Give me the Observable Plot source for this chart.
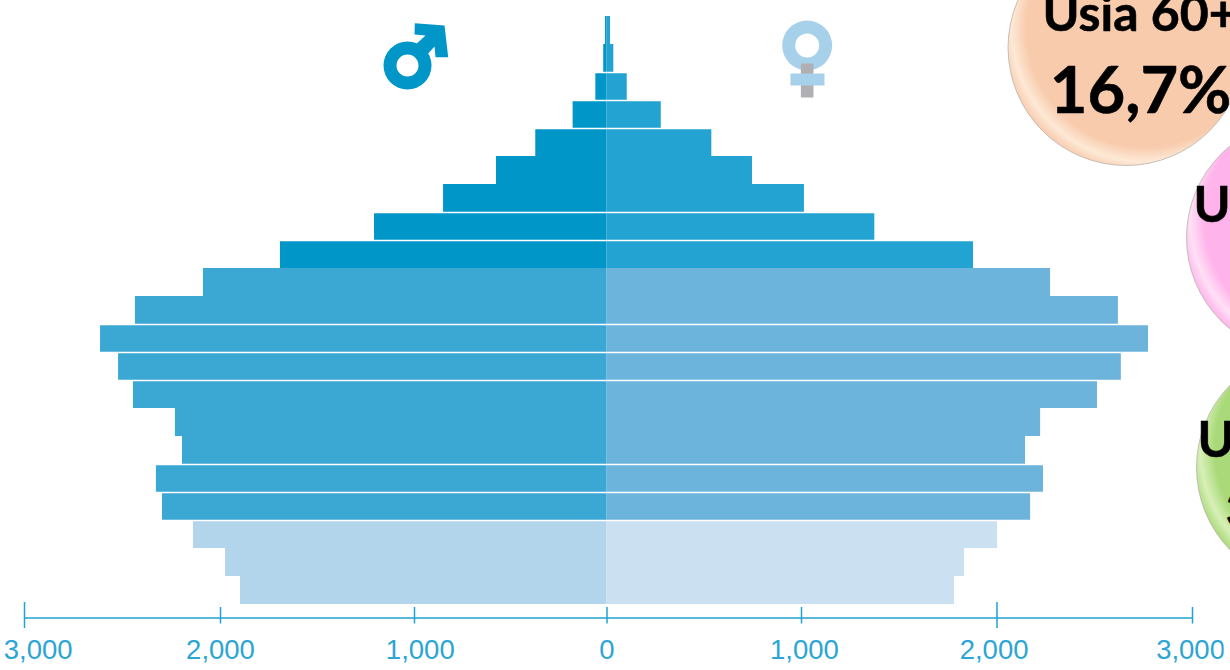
<!DOCTYPE html>
<html>
<head>
<meta charset="utf-8">
<style>html,body{margin:0;padding:0;background:#fff;overflow:hidden}svg{display:block}</style>
<script src="https://cdn.jsdelivr.net/npm/d3@7"></script>
<script src="https://cdn.jsdelivr.net/npm/@observablehq/plot@0.6"></script>
</head>
<body>
<div id="chart"></div>
<script>
const ageGroups = ["100+","95-99","90-94","85-89","80-84","75-79","70-74","65-69","60-64","55-59","50-54","45-49","40-44","35-39","30-34","25-29","20-24","15-19","10-14","5-9","0-4"];
const maleValues = [8,17,58,176,370,574,849,1206,1691,2087,2434,2612,2520,2444,2230,2194,2327,2296,2138,1974,1897];
const femaleValues = [18,35,104,279,539,748,1015,1375,1880,2274,2621,2775,2636,2514,2223,2146,2238,2172,2003,1834,1783];
const ageTiers = ["old","old","old","old","old","old","old","old","old","mid","mid","mid","mid","mid","mid","mid","mid","mid","young","young","young"];
const maleColors = {old:"#0096c8", mid:"#3ba7d3", young:"#b2d5ec"};
const femaleColors = {old:"#22a3d1", mid:"#6cb4dc", young:"#cbe1f1"};
const rowGaps = ["95-99","90-94","85-89","70-74","65-69","50-54","45-49","40-44","25-29","20-24","15-19"];
const tickValues = [-3000,-2000,-1000,0,1000,2000,3000];
const tickPixels = [24,220,414,606.5,801,996.5,1192];
const tickLabels = ["3,000","2,000","1,000","0","1,000","2,000","3,000"];
const tickLabelAt = [-2930,-2000,-970,0,1015,1985,2990];
const longTicks = [-3000,2000];
const shortTicks = [-2000,-1000,0,1000,3000];
const bubbles = [
  {x:2660, age:"95-99", dy:-11, fill:"url(#peach)"},
  {x:3573, age:"65-69", dy:11, fill:"url(#pink)"},
  {x:3624, age:"20-24", dy:-11, fill:"url(#green)"}
];
const bubbleTexts = [
  {x:2233, age:"100+", dy:-16, size:50, text:"Usia 60+"},
  {x:2270, age:"85-89", dy:-22.5, size:65, text:"16,7%"},
  {x:3005, age:"70-74", dy:7, size:50, text:"U"},
  {x:3025, age:"30-34", dy:18, size:50, text:"U"},
  {x:3170, age:"15-19", dy:5, size:48, text:"3"}
];

const rows = ageGroups.map((age,i)=>({age, male:maleValues[i], female:femaleValues[i], tier:ageTiers[i]}));

const ring = (outer,inner,ctx,k) => {
  ctx.moveTo(outer*k,0); ctx.arc(0,0,outer*k,0,2*Math.PI);
  ctx.moveTo(inner*k,0); ctx.arc(0,0,inner*k,2*Math.PI,0,true);
  ctx.closePath();
};
const poly = (pts,ctx,k) => { pts.forEach(([x,y],i)=> i?ctx.lineTo(x*k,y*k):ctx.moveTo(x*k,y*k)); ctx.closePath(); };
const maleSymbol = {draw(ctx,size){const k=Math.sqrt(size/Math.PI)/24; ring(24,11,ctx,k);
  poly([[7.3,-42.3],[37,-40],[40.7,-8.3],[28,-8.3],[27,-19],[18,-9],[6,-19],[18,-30],[7,-31]],ctx,k);}};
const femaleRing = {draw(ctx,size){const k=Math.sqrt(size/Math.PI)/24; ring(25,12,ctx,k);}};
const femaleStem = {draw(ctx,size){const k=Math.sqrt(size/Math.PI)/24; poly([[-6.3,18],[6.3,18],[6.3,52],[-6.3,52]],ctx,k);}};
const femaleBar = {draw(ctx,size){const k=Math.sqrt(size/Math.PI)/24; poly([[-16.7,28],[17.3,28],[17.3,40],[-16.7,40]],ctx,k);}};

const defs = () => {
  const d = d3.create("svg:defs");
  [["peach","#f8cbad","#fde9d6"],["pink","#ffb3ea","#ffe0f6"],["green","#a9d978","#d8f0b8"]].forEach(([id,c,hi])=>{
    const g = d.append("radialGradient").attr("id",id).attr("cx","0.58").attr("cy","0.42").attr("r","0.613");
    g.append("stop").attr("offset","0.82").attr("stop-color",c);
    g.append("stop").attr("offset","0.92").attr("stop-color",hi);
    g.append("stop").attr("offset","1").attr("stop-color",c);
  });
  return d.node();
};

const oneAge = [ageGroups[1]];
const chart = Plot.plot({
  width:1230, height:670,
  marginTop:0, marginRight:0, marginBottom:0, marginLeft:0,
  x:{domain:tickValues, range:tickPixels, type:"linear", axis:null},
  y:{domain:ageGroups, range:[16,604], padding:0, axis:null},
  color:{type:"identity"},
  marks:[
    defs,
    Plot.barX(rows,{x1:()=>0, x2:d=>d.female, y:"age", fill:d=>femaleColors[d.tier]}),
    Plot.barX(rows,{x1:()=>0, x2:d=>-d.male, y:"age", fill:d=>maleColors[d.tier]}),
    Plot.ruleY(rowGaps,{y:d=>d, dy:14, stroke:"#fff", strokeWidth:1.5}),
    Plot.ruleY([ageGroups[20]],{y:d=>d, x1:-3000, x2:3000, dy:27.5, stroke:"#1fa3d0", strokeWidth:1.5}),
    Plot.ruleX(longTicks,{x:d=>d, insetTop:602, insetBottom:42, stroke:"#1fa3d0", strokeWidth:1.5}),
    Plot.ruleX(shortTicks,{x:d=>d, insetTop:607, insetBottom:46.5, stroke:"#1fa3d0", strokeWidth:1.5}),
    Plot.text(tickLabels,{x:(d,i)=>tickLabelAt[i], text:d=>d, frameAnchor:"bottom", lineAnchor:"bottom", dy:-12, fontFamily:"Liberation Sans", fontSize:27.5, fill:"#2ba5d5"}),
    Plot.ruleX([3175],{x:d=>d, insetTop:635, insetBottom:0, stroke:"#fff", strokeWidth:6}),
    Plot.dot(oneAge,{x:()=>-1036, y:d=>d, dy:7, r:24, symbol:maleSymbol, fill:"#0096c8", stroke:"none"}),
    Plot.dot(oneAge,{x:()=>1029, y:d=>d, dy:-13, r:24, symbol:femaleRing, fill:"#a7d0ea", stroke:"none"}),
    Plot.dot(oneAge,{x:()=>1029, y:d=>d, dy:-13, r:24, symbol:femaleStem, fill:"#b0b0b4", stroke:"none"}),
    Plot.dot(oneAge,{x:()=>1029, y:d=>d, dy:-13, r:24, symbol:femaleBar, fill:"#a7d0ea", stroke:"none"}),
    ...bubbles.map(b=>Plot.dot([b],{x:"x", y:"age", dy:b.dy, r:118, fill:b.fill, stroke:"#b9b3ad", strokeWidth:0.8})),
    ...bubbleTexts.map(t=>Plot.text([t],{x:"x", y:"age", dy:t.dy, text:"text", textAnchor:"start", fontFamily:"Lato", fontWeight:700, fontSize:t.size, fill:"#000", stroke:"#000", strokeWidth:0.6}))
  ]
});
document.getElementById("chart").append(chart);
</script>
</body>
</html>
